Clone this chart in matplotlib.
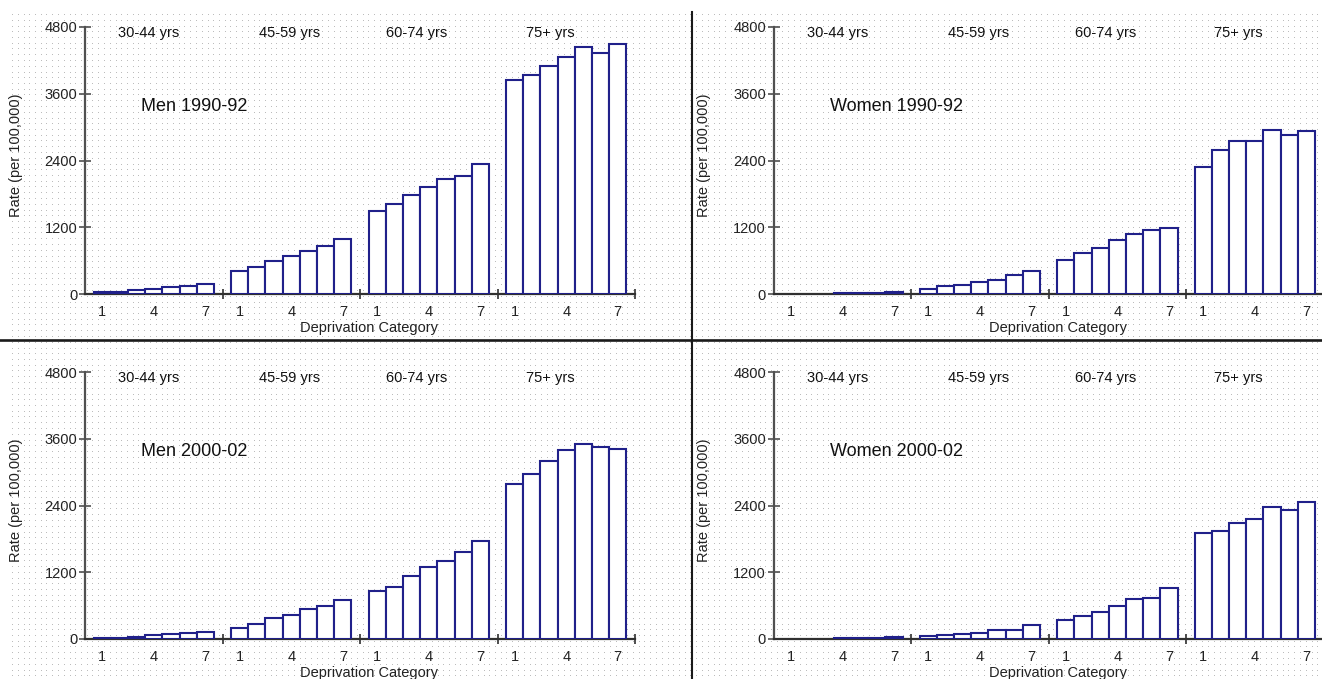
import numpy as np
import matplotlib
matplotlib.use('Agg')
import matplotlib.pyplot as plt
from matplotlib.lines import Line2D

plt.rcParams['font.family'] = ['Liberation Sans', 'DejaVu Sans']

# 資料：每個面板 4 個年齡組 × 7 個剝奪類別
age_groups = ['30-44 yrs', '45-59 yrs', '60-74 yrs', '75+ yrs']
categories = [1, 2, 3, 4, 5, 6, 7]
tick_cats = ['1', '4', '7']
yticks = [0, 1200, 2400, 3600, 4800]

men_1990 = [
    [30, 35, 65, 95, 120, 145, 185],
    [414, 486, 594, 690, 780, 870, 984],
    [1494, 1626, 1782, 1920, 2076, 2124, 2334],
    [3846, 3930, 4092, 4254, 4434, 4326, 4494],
]
women_1990 = [
    [0, 0, 0, 12, 12, 14, 36],
    [90, 138, 162, 210, 252, 342, 414],
    [618, 732, 828, 966, 1080, 1146, 1188],
    [2292, 2586, 2742, 2742, 2952, 2862, 2922],
]
men_2000 = [
    [18, 18, 42, 66, 90, 108, 132],
    [198, 270, 384, 432, 540, 588, 702],
    [870, 930, 1134, 1290, 1410, 1572, 1770],
    [2784, 2964, 3198, 3402, 3510, 3450, 3408],
]
women_2000 = [
    [0, 0, 0, 12, 12, 14, 42],
    [48, 72, 96, 114, 162, 156, 251],
    [341, 413, 485, 599, 712, 736, 916],
    [1909, 1939, 2083, 2149, 2376, 2328, 2466],
]

panels = [
    ('Men 1990-92', men_1990),
    ('Women 1990-92', women_1990),
    ('Men 2000-02', men_2000),
    ('Women 2000-02', women_2000),
]

W, H = 1322, 679
fig = plt.figure(figsize=(W / 100, H / 100), dpi=100)

# 背景點陣
bg = np.ones((H, W, 3))
xs = np.round(np.arange(12, W, 5.75)).astype(int)
ys = np.round(np.arange(14, H, 5.75)).astype(int)
bg[np.ix_(ys, xs)] = 0.74
bg_ax = fig.add_axes([0, 0, 1, 1], zorder=0)
bg_ax.imshow(bg, aspect='auto', interpolation='nearest')
bg_ax.axis('off')

# 面板位置（像素）：y軸x座標、0線y座標、4800線y座標
layout = [(85, 294, 27), (773.6, 294, 27), (85, 639, 372), (773.6, 639, 372)]
age_x = [3.7, 11.9, 19.3, 27.05]
bar_color = '#20208a'
axis_color = '#505050'

for (title, data), (x0, yz, yt) in zip(panels, layout):
    ax = fig.add_axes([x0 / W, (H - yz) / H, 550 / W, (yz - yt) / H], zorder=2)
    ax.set_facecolor('none')
    for g, vals in enumerate(data):
        pos = [8 * g + c for c in categories]
        edges = [bar_color if v > 0 else 'none' for v in vals]
        ax.bar(pos, vals, width=1.0, color='white', edgecolor=edges,
               linewidth=1.5, zorder=3)
        ax.text(age_x[g], 4700, age_groups[g], ha='center', va='center',
                fontsize=10.5, color='#111111')
    ax.text(3.26, 3370, title, ha='left', va='center', fontsize=13,
            color='#111111')

    ax.set_xlim(0, 32)
    ax.set_ylim(0, 4800)
    for s in ('top', 'right'):
        ax.spines[s].set_visible(False)
    ax.spines['left'].set_color(axis_color)
    ax.spines['left'].set_linewidth(1.6)
    ax.spines['bottom'].set_color('#303030')
    ax.spines['bottom'].set_linewidth(1.6)

    ax.set_yticks(yticks, [str(v) for v in yticks])
    ax.tick_params(axis='y', direction='inout', length=9, width=1.2,
                   color=axis_color, pad=1, labelsize=10.5, labelcolor='#222222')
    ax.set_xticks([8, 16, 24, 32], ['', '', '', ''])
    ax.tick_params(axis='x', which='major', direction='inout', length=7,
                   width=1.2, color='#303030')
    minor_pos = [8 * g + int(c) for g in range(4) for c in tick_cats]
    ax.set_xticks(minor_pos, tick_cats * 4, minor=True)
    ax.tick_params(axis='x', which='minor', length=0, pad=8, labelsize=10.5,
                   labelcolor='#222222')

    ax.set_ylabel('Rate (per 100,000)', fontsize=10.5, color='#222222')
    ax.yaxis.set_label_coords(-0.113, 0.52)
    ax.set_xlabel('Deprivation Category', fontsize=10.5, color='#222222')
    ax.xaxis.set_label_coords(0.517, -0.128)
    ax.xaxis.label.set_va('center')

# 分隔線
fig.add_artist(Line2D([0, 1], [1 - 340 / H, 1 - 340 / H], color='#1a1a1a',
                      linewidth=1.9, zorder=5))
fig.add_artist(Line2D([692 / W, 692 / W], [0, 1 - 12 / H], color='#1a1a1a',
                      linewidth=1.5, zorder=5))

fig.savefig('out.png', dpi=100)
